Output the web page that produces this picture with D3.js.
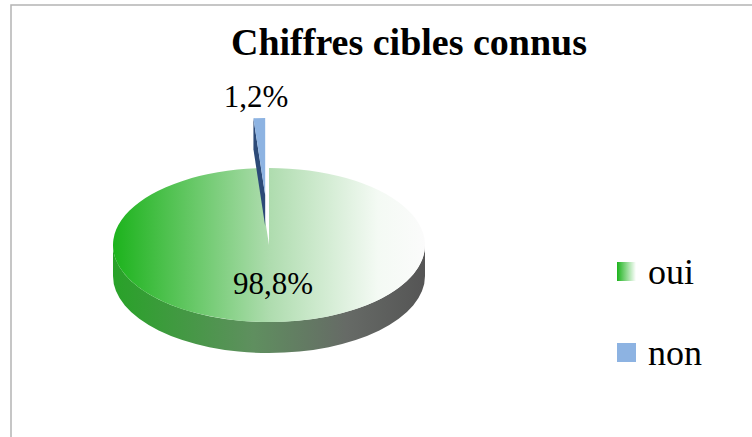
<!DOCTYPE html>
<html>
<head>
<meta charset="utf-8">
<script src="https://cdn.jsdelivr.net/npm/d3@7"></script>
<style>
  html, body { margin: 0; padding: 0; background: #fff; }
  svg { display: block; }
</style>
</head>
<body>
<svg id="chart" width="752" height="437"></svg>
<script>
// Data
const categories = ["oui", "non"];
const values = [98.8, 1.2];
const valueLabels = ["98,8%", "1,2%"];
const title = "Chiffres cibles connus";

const W = 752, H = 437;
const FONT = "Liberation Serif";
const svg = d3.select("#chart");

// Frame
svg.append("path")
  .attr("d", `M11,${H} L11,5 L${W},5`)
  .attr("fill", "none").attr("stroke", "#b4b4b4").attr("stroke-width", 1.5);

const defs = svg.append("defs");
function linGrad(id, stops) {
  const g = defs.append("linearGradient").attr("id", id)
    .attr("x1", "0%").attr("x2", "100%").attr("y1", "0%").attr("y2", "0%");
  stops.forEach(([o, c]) => g.append("stop").attr("offset", o).attr("stop-color", c));
}
linGrad("gTop", [["0%", "#1cb31c"], ["50%", "#aedcae"], ["85%", "#f4faf4"], ["100%", "#fbfbfb"]]);
linGrad("gSide", [["0%", "#28a228"], ["45%", "#5f8f5f"], ["75%", "#666a66"], ["100%", "#555555"]]);
linGrad("gLegend", [["0%", "#1cb31c"], ["100%", "#ffffff"]]);

const colorsTop = ["url(#gTop)", "#8db3e2"];
const colorsSide = ["url(#gSide)", "#2c4a78"];

// Geometry of the tilted pie
const cx = 269, cy = 245, rx = 156, ry = 77, depth = 31;
const explode = [0, 0.65];   // fraction of radius each slice is pulled out

const pie = d3.pie().sort(null).value(d => d)(values);
const pt = (a, r = 1) => [rx * r * Math.sin(a), -ry * r * Math.cos(a)];

const g = svg.append("g");

pie.forEach((s, i) => {
  const mid = (s.startAngle + s.endAngle) / 2;
  const [ox, oy] = pt(mid, explode[i]);
  const sg = g.append("g").attr("transform", `translate(${cx + ox},${cy + oy})`);

  // radial cut faces (visible for the pulled-out slice)
  if (explode[i] > 0) {
    [s.startAngle, s.endAngle].forEach(a => {
      const [px, py] = pt(a);
      sg.append("path")
        .attr("d", `M0,0 L${px},${py} L${px},${py + depth} L0,${depth} Z`)
        .attr("fill", colorsSide[i]);
    });
  }

  // outer wall on the front half of the ellipse
  const a0 = Math.max(s.startAngle, Math.PI / 2);
  const a1 = Math.min(s.endAngle, 3 * Math.PI / 2);
  if (a1 > a0) {
    const [x0, y0] = pt(a0), [x1, y1] = pt(a1);
    const large = (a1 - a0) > Math.PI ? 1 : 0;
    sg.append("path")
      .attr("d", `M${x0},${y0} A${rx},${ry} 0 ${large} 1 ${x1},${y1}` +
                 ` L${x1},${y1 + depth} A${rx},${ry} 0 ${large} 0 ${x0},${y0 + depth} Z`)
      .attr("fill", colorsSide[i]);
  }

  // top face: circular arc squashed into an ellipse
  const arc = d3.arc().innerRadius(0).outerRadius(rx);
  sg.append("path")
    .attr("d", arc(s))
    .attr("transform", `scale(1,${ry / rx})`)
    .attr("fill", colorsTop[i]);
});

// Value labels
g.append("text").attr("x", 273).attr("y", 294).attr("text-anchor", "middle")
  .style("font-family", FONT).style("font-size", "31px").text(valueLabels[0]);
g.append("text").attr("x", 256).attr("y", 107).attr("text-anchor", "middle")
  .style("font-family", FONT).style("font-size", "31px").text(valueLabels[1]);

// Title
svg.append("text").attr("x", 409).attr("y", 55).attr("text-anchor", "middle")
  .style("font-family", FONT).style("font-size", "38px").style("font-weight", "bold").text(title);

// Legend
const legend = svg.append("g");
const legY = [272, 353];
const legFill = ["url(#gLegend)", "#8db3e2"];
categories.forEach((c, i) => {
  legend.append("rect").attr("x", 617).attr("y", legY[i] - 10).attr("width", 19).attr("height", 19)
    .attr("fill", legFill[i]);
  legend.append("text").attr("x", 648).attr("y", legY[i] + 12)
    .style("font-family", FONT).style("font-size", "36px").text(c);
});
</script>
</body>
</html>
